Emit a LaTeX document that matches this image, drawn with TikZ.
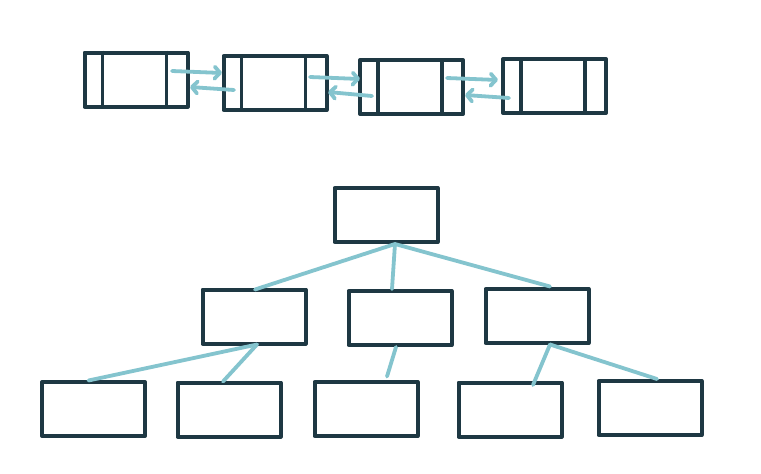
\documentclass[tikz,border=0pt]{standalone}
\usetikzlibrary{arrows.meta,calc}
\definecolor{boxdark}{HTML}{1E3843}
\definecolor{linkteal}{HTML}{84C4CE}
\begin{document}
\begin{tikzpicture}[x=1pt,y=-1pt,
  box/.style={draw=boxdark,line width=4pt,line join=round,minimum width=103pt,minimum height=54pt,inner sep=0pt,fill=white},
  divider/.style={draw=boxdark,line width=3.4pt},
  link/.style={draw=linkteal,line width=3.8pt,line cap=round},
  ptr/.style={link,-{Straight Barb[length=5.5pt,width=12pt,line cap=round,line join=round]}}]
\fill[white] (0,0) rectangle (761,474);
\useasboundingbox (0,0) rectangle (761,474);
% linked list
\node[box] (L1) at (136,79.5) {};
\node[box] (L2) at (275,83) {};
\node[box] (L3) at (411.5,87) {};
\node[box] (L4) at (554.5,86) {};
\foreach \n in {L1,L2,L3,L4}{
  \draw[divider] ($(\n.north west)+(20,0)$) -- ($(\n.south west)+(20,0)$);
  \draw[divider] ($(\n.north east)+(-23,0)$) -- ($(\n.south east)+(-23,0)$);
}
\draw[ptr] ($(L1.center)+(36,-8.5)$) -- ($(L2.center)+(-53,-10)$);
\draw[ptr] ($(L2.center)+(-41,7)$) -- ($(L1.center)+(54,7.5)$);
\draw[ptr] ($(L2.center)+(35,-6)$) -- ($(L3.center)+(-51.5,-8)$);
\draw[ptr] ($(L3.center)+(-39.5,9)$) -- ($(L2.center)+(53,9)$);
\draw[ptr] ($(L3.center)+(35.5,-9)$) -- ($(L4.center)+(-56.5,-6)$);
\draw[ptr] ($(L4.center)+(-45.5,12)$) -- ($(L3.center)+(53.5,8)$);
% tree
\node[box] (R) at (386,215) {};
\node[box] (A) at (254,316.5) {};
\node[box] (B) at (400,318) {};
\node[box] (C) at (537,316) {};
\node[box] (b1) at (93.5,409) {};
\node[box] (b2) at (229,409.5) {};
\node[box] (b3) at (366,409) {};
\node[box] (b4) at (510,409.5) {};
\node[box] (b5) at (650,408) {};
\draw[link] ($(R.south)+(9,0)$) -- ($(A.north)+(1,2)$);
\draw[link] ($(R.south)+(9,0)$) -- ($(B.north)+(-8,0)$);
\draw[link] ($(R.south)+(9,0)$) -- ($(C.north)+(13,-0.5)$);
\draw[link] ($(A.south)+(3,-1)$) -- ($(b1.north)+(-5,0.5)$);
\draw[link] ($(A.south)+(3,-1)$) -- ($(b2.north)+(-6,1)$);
\draw[link] ($(B.south)+(-4,0)$) -- ($(b3.north)+(21,-3.5)$);
\draw[link] ($(C.south)+(13,-0.5)$) -- ($(b4.north)+(23,4.5)$);
\draw[link] ($(C.south)+(13,-0.5)$) -- ($(b5.north)+(7,0)$);
\end{tikzpicture}
\end{document}
